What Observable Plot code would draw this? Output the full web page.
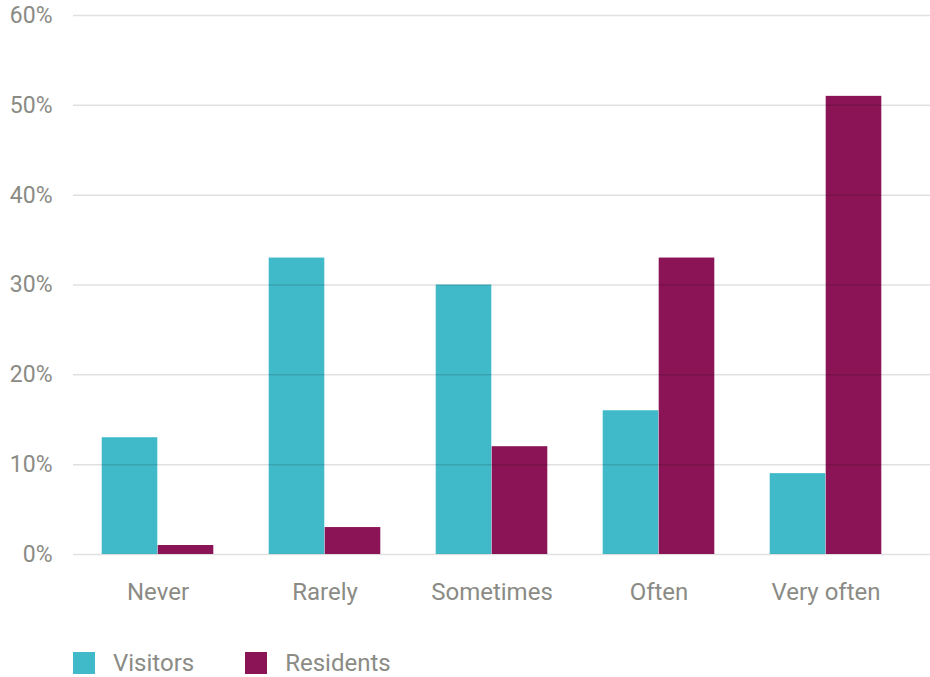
<!DOCTYPE html>
<html>
<head>
<meta charset="utf-8">
<script src="https://cdn.jsdelivr.net/npm/d3@7"></script>
<script src="https://cdn.jsdelivr.net/npm/@observablehq/plot@0.6"></script>
<style>
  body { margin: 0; background: #fff; font-family: Roboto, "Noto Sans", sans-serif; }
  #chart svg { display: block; }
  .legend { display: flex; align-items: center; padding-left: 73px; margin-top: 32px; font-size: 24px; color: #8b8b85; height: 22px; }
  .legend .sw { width: 22px; height: 22px; margin-right: 18px; }
  .legend .lab { margin-right: 51px; line-height: 22px; }
</style>
</head>
<body>
<div id="chart"></div>
<script>
const categories = ["Never", "Rarely", "Sometimes", "Often", "Very often"];
const seriesNames = ["Visitors", "Residents"];
const visitors = [13, 33, 30, 16, 9];
const residents = [1, 3, 12, 33, 51];
const yTicks = [0, 10, 20, 30, 40, 50, 60];
const colors = ["#40bac9", "#8a1456"];

const rowsV = categories.map((c, i) => ({category: c, series: "Visitors", value: visitors[i]}));
const rowsR = categories.map((c, i) => ({category: c, series: "Residents", value: residents[i]}));

const step = (910 - 73) / categories.length;
const barW = 56;

const plot = Plot.plot({
  width: 930,
  height: 620,
  marginLeft: 73,
  marginRight: 0,
  marginTop: 15,
  marginBottom: 66,
  style: {fontFamily: "Roboto, 'Noto Sans', sans-serif", fontSize: "23px", color: "#8b8b85", background: "#fff"},
  x: {domain: categories, range: [73, 910], padding: 0, tickSize: 0, tickPadding: 28, label: null},
  y: {domain: [0, 60], ticks: yTicks, tickFormat: d => d + "%", tickSize: 0, tickPadding: 21, label: null},
  marks: [
    Plot.barY(rowsV, {x: "category", y: "value", fill: colors[0], insetLeft: step / 2 - barW, insetRight: step / 2}),
    Plot.barY(rowsR, {x: "category", y: "value", fill: colors[1], insetLeft: step / 2, insetRight: step / 2 - barW}),
    Plot.ruleY(yTicks, {stroke: "#000", strokeOpacity: 0.12, strokeWidth: 1.5})
  ]
});
plot.querySelectorAll('[aria-label="x-axis tick label"] text, g[aria-label="x-axis tick label"]').forEach(el => el.setAttribute("font-size", "24"));
document.getElementById("chart").appendChild(plot);

const legend = document.createElement("div");
legend.className = "legend";
seriesNames.forEach((name, i) => {
  const sw = document.createElement("div");
  sw.className = "sw";
  sw.style.background = colors[i];
  const lab = document.createElement("span");
  lab.className = "lab";
  lab.textContent = name;
  legend.appendChild(sw);
  legend.appendChild(lab);
});
document.getElementById("chart").appendChild(legend);
</script>
</body>
</html>
